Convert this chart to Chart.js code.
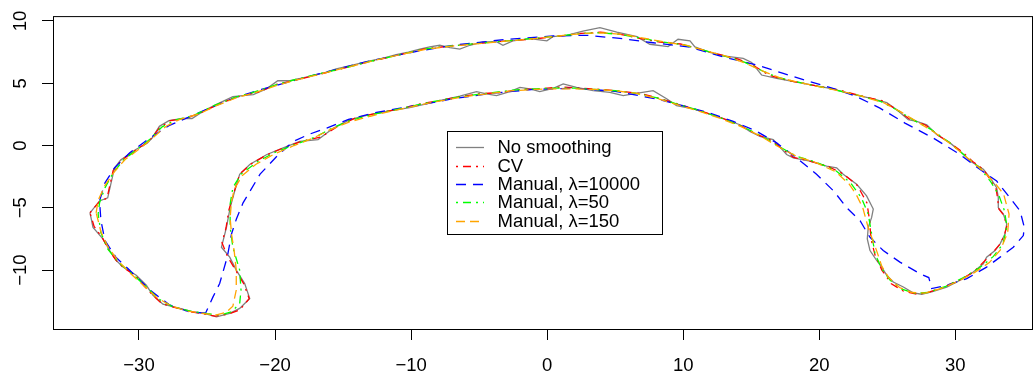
<!DOCTYPE html>
<html>
<head>
<meta charset="utf-8">
<script src="https://cdn.jsdelivr.net/npm/chart.js@4.4.1/dist/chart.umd.min.js"></script>
<style>
  html, body { margin: 0; padding: 0; background: #fff; }
  #wrap { width: 1034px; height: 375px; }
</style>
</head>
<body>
<div id="wrap"><canvas id="c" width="1034" height="375"></canvas></div>
<script>
// ---------------- data ----------------
const seriesNames = ["No smoothing", "CV", "Manual, \u03bb=10000", "Manual, \u03bb=50", "Manual, \u03bb=150"];
const xTicks = [-30, -20, -10, 0, 10, 20, 30];
const xTickLabels = ["\u221230", "\u221220", "\u221210", "0", "10", "20", "30"];
const yTicks = [-10, -5, 0, 5, 10];
const yTickLabels = ["\u221210", "\u22125", "0", "5", "10"];

const noSmoothing = [
[-33.6,-5.4],[-32.9,-4.45],[-32.3,-4.2],[-31.8,-1.8],[-31.35,-1.17],[-30.2,-0.3],[-29.4,0.18],[-29.05,0.58],
[-28.5,1.54],[-27.8,2.0],[-26.8,2.17],[-26.1,2.17],[-25.3,2.74],[-24.3,3.3],[-23.1,3.93],[-21.6,4.09],
[-20.6,4.57],[-19.8,5.2],[-18.9,5.2],[-17.7,5.5],[-16.2,5.9],[-15.5,6.15],[-14.3,6.45],[-13.2,6.75],
[-12.1,7.0],[-11.1,7.3],[-10.2,7.5],[-9.36,7.74],[-8.63,7.92],[-7.89,8.05],[-7.15,7.86],[-6.42,7.74],
[-5.68,8.05],[-4.73,8.32],[-3.7,8.32],[-3.25,8.05],[-2.52,8.4],[-1.27,8.58],[-0.02,8.4],[0.42,8.74],
[1.44,8.85],[2.63,9.19],[3.88,9.46],[5.12,9.11],[6.6,8.74],[7.55,8.13],[8.89,7.94],[9.62,8.53],
[10.5,8.4],[10.86,7.92],[11.96,7.47],[12.94,7.2],[14.41,6.99],[15.03,6.67],[15.76,5.66],[16.87,5.39],
[18.82,4.99],[20.79,4.59],[22.5,4.11],[23.73,3.8],[24.96,3.45],[25.7,2.87],[26.54,2.07],[27.16,1.94],
[27.9,1.67],[28.63,0.88],[29.61,0.21],[30.35,-0.45],[31.08,-1.25],[32.06,-1.91],[32.55,-2.58],[33.04,-3.38],
[33.16,-4.18],[33.16,-4.98],[33.53,-5.5],[33.78,-6.3],[33.65,-7.1],[33.29,-7.89],[32.92,-8.43],[32.3,-8.96],
[32.06,-9.49],[31.32,-10.16],[30.35,-10.82],[29.37,-11.36],[28.26,-11.75],[27.53,-11.94],[26.9,-11.83],[26.18,-11.36],
[25.44,-10.96],[24.96,-10.42],[24.59,-9.76],[24.22,-9.23],[23.73,-8.43],[23.53,-7.5],[23.6,-6.57],[23.85,-5.77],
[23.97,-5.1],[23.48,-4.04],[22.75,-3.11],[21.76,-2.31],[21.28,-1.79],[20.54,-1.65],[19.32,-1.25],[18.09,-0.99],
[17.6,-0.72],[16.62,0.48],[15.64,0.74],[14.9,1.14],[14.17,1.67],[12.94,2.15],[11.72,2.6],[10.74,2.95],
[9.51,3.21],[8.78,3.75],[7.79,4.41],[6.32,4.15],[5.59,4.01],[4.61,4.27],[3.38,4.41],[2.16,4.67],
[1.18,4.94],[0.44,4.59],[-0.54,4.33],[-1.27,4.55],[-2.0,4.67],[-2.74,4.33],[-3.72,4.01],[-4.46,4.15],
[-5.19,4.33],[-6.42,3.96],[-7.89,3.61],[-8.63,3.4],[-10.1,3.05],[-11.8,2.74],[-13.28,2.42],[-14.5,2.07],
[-15.7,1.4],[-16.84,0.48],[-18.18,0.34],[-19.4,-0.19],[-20.6,-0.72],[-21.86,-1.52],[-22.6,-2.31],[-22.96,-3.64],
[-23.3,-4.98],[-23.57,-6.57],[-23.94,-8.17],[-23.33,-8.96],[-22.84,-10.02],[-22.23,-11.08],[-21.86,-12.28],[-22.6,-13.08],
[-23.33,-13.48],[-24.31,-13.75],[-25.2,-13.48],[-26.03,-13.35],[-27.0,-13.08],[-28.24,-12.74],[-28.97,-12.02],[-29.46,-11.22],
[-30.2,-10.42],[-31.18,-9.76],[-31.66,-9.23],[-32.15,-8.43],[-32.65,-7.5],[-33.38,-6.57],[-33.6,-5.4]
];

const cvFit = [
[-33.6,-5.4],[-32.9,-4.5],[-32.35,-4.23],[-31.9,-2.0],[-31.3,-1.2],[-30.3,-0.4],[-29.3,0.3],[-28.5,1.4],
[-27.7,2.0],[-26.5,2.2],[-25.3,2.7],[-24.0,3.4],[-22.6,3.95],[-21.2,4.3],[-19.9,4.9],[-18.5,5.25],
[-16.8,5.7],[-15.0,6.2],[-13.0,6.75],[-11.0,7.25],[-9.0,7.75],[-7.0,8.0],[-5.0,8.2],[-3.0,8.4],
[-1.0,8.55],[1.0,8.8],[2.5,9.0],[3.9,9.1],[5.3,8.95],[6.8,8.6],[8.3,8.3],[9.8,8.15],
[11.0,7.8],[12.5,7.35],[14.0,6.95],[15.2,6.4],[16.3,5.65],[17.6,5.25],[19.5,4.85],[21.5,4.45],
[23.0,4.0],[24.6,3.6],[25.6,2.95],[26.6,2.15],[27.8,1.65],[28.7,0.85],[29.7,0.15],[30.5,-0.5],
[31.3,-1.3],[32.06,-1.91],[32.6,-2.8],[33.0,-3.5],[33.1,-4.18],[33.2,-5.1],[33.5,-5.5],[33.8,-6.4],
[33.6,-7.2],[33.3,-7.9],[32.9,-8.4],[32.4,-9.0],[31.3,-10.2],[30.3,-10.8],[29.2,-11.35],[28.0,-11.8],
[27.2,-11.95],[26.2,-11.7],[25.3,-11.1],[24.6,-10.0],[24.1,-8.8],[23.8,-7.5],[23.7,-6.0],[23.5,-4.6],
[22.8,-3.2],[21.8,-2.3],[20.6,-1.65],[19.3,-1.25],[18.1,-0.95],[17.3,-0.3],[16.5,0.4],[15.3,0.95],
[14.2,1.6],[13.0,2.15],[11.5,2.7],[10.0,3.2],[8.5,3.7],[7.0,4.15],[5.5,4.35],[4.0,4.5],
[2.5,4.6],[1.0,4.7],[-0.5,4.55],[-2.0,4.5],[-3.5,4.25],[-5.0,4.15],[-6.5,3.9],[-8.0,3.6],
[-9.5,3.3],[-11.0,2.9],[-12.5,2.6],[-14.0,2.25],[-15.3,1.6],[-16.6,0.7],[-18.0,0.35],[-19.3,-0.15],
[-20.6,-0.75],[-21.8,-1.5],[-22.6,-2.3],[-23.0,-3.7],[-23.4,-5.2],[-23.6,-6.6],[-23.9,-7.8],[-23.5,-8.9],
[-22.9,-10.0],[-22.3,-11.1],[-21.9,-12.3],[-22.6,-13.2],[-23.5,-13.55],[-24.4,-13.7],[-25.3,-13.5],[-26.2,-13.35],
[-27.2,-13.05],[-28.3,-12.7],[-29.0,-12.0],[-29.6,-11.3],[-30.2,-10.5],[-31.2,-9.75],[-31.7,-9.2],[-32.2,-8.4],
[-32.7,-7.4],[-33.3,-6.5],[-33.6,-5.4]
];

const manual10000 = [
[-25.1,-13.45],[-26.3,-13.35],[-27.75,-12.8],[-29.2,-11.6],[-30.7,-10.0],[-31.7,-8.96],[-32.5,-7.63],[-32.8,-6.0],
[-32.9,-4.45],[-32.5,-3.0],[-31.8,-1.8],[-30.7,-0.6],[-29.2,0.6],[-27.8,1.6],[-26.3,2.3],[-24.6,3.1],
[-22.8,3.9],[-21.0,4.5],[-19.0,5.1],[-17.0,5.7],[-15.0,6.25],[-13.0,6.8],[-11.0,7.25],[-9.36,7.6],
[-6.9,8.05],[-3.2,8.5],[0.44,8.8],[2.9,8.85],[5.35,8.6],[7.8,8.25],[10.49,7.9],[13.0,7.1],
[15.4,6.46],[17.35,5.79],[19.3,5.13],[21.0,4.59],[22.75,3.93],[24.46,3.0],[26.3,1.8],[28.38,0.6],
[30.35,-0.72],[31.8,-1.91],[33.04,-2.85],[34.0,-4.18],[34.76,-5.24],[35.07,-6.57],[35.0,-7.23],[34.26,-8.17],
[33.29,-8.96],[32.3,-9.76],[30.84,-10.69],[29.37,-11.22],[28.26,-11.48],[28.05,-10.6],[27.4,-10.29],[25.93,-9.36],
[24.7,-8.43],[23.73,-7.37],[23.0,-6.04],[22.0,-4.98],[21.1,-3.7],[19.8,-2.31],[18.34,-1.0],[16.87,0.21],
[15.4,1.14],[13.68,1.94],[11.96,2.6],[10.49,3.05],[8.0,3.75],[5.0,4.35],[2.0,4.6],[-1.0,4.5],
[-4.0,4.2],[-7.0,3.75],[-8.63,3.4],[-10.8,3.0],[-12.8,2.6],[-14.6,2.1],[-16.2,1.4],[-17.5,0.9],
[-18.7,0.3],[-19.9,-0.9],[-21.1,-2.3],[-22.35,-4.6],[-22.84,-5.9],[-23.2,-7.1],[-23.5,-8.9],[-24.07,-11.08],
[-24.56,-12.15],[-25.1,-13.45]
];

const manual50 = [
[-33.0,-5.5],[-32.9,-4.6],[-32.5,-3.4],[-31.9,-2.2],[-31.1,-1.1],[-30.1,-0.3],[-29.2,0.5],[-28.3,1.5],
[-27.3,2.05],[-26.0,2.4],[-24.5,3.2],[-23.0,3.85],[-21.5,4.3],[-20.0,4.85],[-18.5,5.3],[-16.8,5.75],
[-15.0,6.2],[-13.0,6.75],[-11.0,7.25],[-9.0,7.75],[-7.0,8.0],[-5.0,8.2],[-3.0,8.4],[-1.0,8.6],
[1.0,8.8],[2.5,9.0],[4.0,9.05],[5.5,8.9],[7.0,8.6],[8.5,8.3],[10.0,8.1],[11.5,7.65],
[13.0,7.2],[14.5,6.7],[15.8,6.0],[17.0,5.45],[19.0,4.95],[21.0,4.5],[22.8,4.05],[24.5,3.55],
[25.8,2.8],[27.0,2.0],[28.2,1.3],[29.5,0.3],[30.7,-0.8],[31.8,-1.8],[32.6,-2.9],[33.2,-4.0],
[33.6,-5.2],[33.8,-6.5],[33.5,-7.9],[32.8,-8.9],[31.8,-9.8],[30.6,-10.6],[29.3,-11.3],[28.0,-11.8],
[27.0,-11.85],[26.0,-11.5],[25.2,-10.8],[24.6,-9.9],[24.1,-8.7],[23.85,-7.1],[23.6,-5.5],[23.1,-4.2],
[22.3,-3.0],[21.2,-2.0],[19.8,-1.35],[18.3,-0.85],[17.0,-0.05],[15.7,0.8],[14.3,1.55],[12.8,2.2],
[11.2,2.8],[9.5,3.35],[8.0,3.85],[6.5,4.2],[5.0,4.4],[3.5,4.5],[2.0,4.6],[0.5,4.6],
[-1.0,4.55],[-2.5,4.45],[-4.0,4.25],[-5.5,4.05],[-7.0,3.8],[-8.5,3.5],[-10.0,3.15],[-11.5,2.8],
[-13.0,2.45],[-14.5,2.0],[-15.8,1.4],[-17.0,0.7],[-18.5,0.1],[-20.0,-0.55],[-21.3,-1.3],[-22.5,-2.3],
[-23.1,-3.38],[-23.3,-4.7],[-23.3,-6.57],[-23.1,-8.17],[-22.6,-10.0],[-22.5,-11.6],[-22.6,-12.7],[-23.2,-13.35],
[-24.0,-13.6],[-25.0,-13.5],[-26.2,-13.3],[-27.5,-12.95],[-28.6,-12.3],[-29.5,-11.3],[-30.5,-10.3],[-31.5,-9.4],
[-32.3,-8.3],[-32.8,-7.0],[-33.0,-5.5]
];

const manual150 = [
[-33.15,-5.4],[-33.0,-4.4],[-32.5,-3.2],[-31.8,-2.1],[-31.0,-1.1],[-30.0,-0.3],[-29.0,0.6],[-28.0,1.55],
[-27.0,2.1],[-25.7,2.5],[-24.3,3.2],[-22.8,3.85],[-21.3,4.3],[-19.8,4.85],[-18.3,5.3],[-16.6,5.75],
[-14.8,6.25],[-12.8,6.8],[-10.8,7.3],[-8.8,7.75],[-6.8,8.0],[-4.8,8.2],[-2.8,8.4],[-0.8,8.6],
[1.2,8.85],[2.8,9.0],[4.2,9.05],[5.7,8.9],[7.2,8.6],[8.7,8.3],[10.2,8.05],[11.7,7.6],
[13.2,7.15],[14.6,6.6],[15.9,5.95],[17.2,5.4],[19.2,4.9],[21.2,4.45],[23.0,4.0],[24.7,3.45],
[26.0,2.7],[27.2,1.9],[28.4,1.1],[29.7,0.1],[30.9,-1.0],[32.0,-2.0],[32.9,-3.0],[33.55,-3.9],
[33.95,-5.5],[33.85,-7.0],[33.3,-8.4],[32.5,-9.4],[31.4,-10.2],[30.2,-10.9],[29.0,-11.45],[27.8,-11.85],
[26.8,-11.8],[25.9,-11.4],[25.1,-10.6],[24.6,-9.7],[24.2,-8.4],[23.6,-6.6],[23.2,-5.0],[22.7,-3.9],
[22.2,-3.1],[21.2,-2.1],[19.8,-1.4],[18.3,-0.85],[17.0,-0.1],[15.7,0.75],[14.3,1.5],[12.8,2.15],
[11.2,2.75],[9.5,3.3],[8.0,3.8],[6.5,4.2],[5.0,4.4],[3.5,4.5],[2.0,4.55],[0.5,4.55],
[-1.0,4.5],[-2.5,4.4],[-4.0,4.2],[-5.5,4.0],[-7.0,3.75],[-8.5,3.45],[-10.0,3.1],[-11.5,2.75],
[-13.0,2.35],[-14.5,1.9],[-15.9,1.3],[-17.2,0.6],[-18.6,0.0],[-20.0,-0.65],[-21.4,-1.5],[-22.4,-2.4],
[-23.0,-3.5],[-23.2,-4.5],[-23.3,-5.8],[-23.2,-7.1],[-23.0,-8.5],[-22.85,-10.0],[-22.85,-11.6],[-23.1,-12.9],
[-23.6,-13.4],[-24.3,-13.6],[-25.2,-13.5],[-26.4,-13.3],[-27.6,-12.9],[-28.7,-12.2],[-29.6,-11.3],[-30.6,-10.3],
[-31.5,-9.3],[-32.3,-8.1],[-32.8,-6.9],[-33.15,-5.4]
];

// ---------------- styles ----------------
const FONT = '"Liberation Sans", Arial, Helvetica, sans-serif';
const FONT_SIZE = 18.5;
const styles = [
  { color: '#808080', dash: [] },
  { color: '#FF0000', dash: [2, 5, 8, 5] },
  { color: '#0000FF', dash: [10, 7] },
  { color: '#00FF00', dash: [2, 5, 8, 5] },
  { color: '#FFA500', dash: [9, 5] }
];
const allSeries = [noSmoothing, cvFit, manual10000, manual50, manual150];

const datasets = allSeries.map((s, i) => ({
  label: seriesNames[i],
  data: s.map(p => ({ x: p[0], y: p[1] })),
  showLine: true,
  borderColor: styles[i].color,
  borderDash: styles[i].dash,
  borderWidth: 1.3,
  pointRadius: 0,
  pointHoverRadius: 0,
  tension: 0,
  fill: false,
  order: allSeries.length - i
}));

const boxPlugin = {
  id: 'rbox',
  afterDraw(chart) {
    const { ctx, chartArea: a } = chart;
    ctx.save();
    ctx.strokeStyle = '#000';
    ctx.lineWidth = 1;
    ctx.strokeRect(a.left + 0.5, a.top + 0.5, a.right - a.left - 1, a.bottom - a.top);
    // legend
    const lx = 447, ly = 131, lw = 215, lh = 103;
    ctx.fillStyle = '#fff';
    ctx.fillRect(lx, ly, lw, lh);
    ctx.strokeRect(lx + 0.5, ly + 0.5, lw, lh);
    ctx.font = FONT_SIZE + 'px ' + FONT;
    ctx.textBaseline = 'middle';
    ctx.textAlign = 'left';
    const rowH = 18.35;
    for (let i = 0; i < seriesNames.length; i++) {
      const yy = 148.3 + i * rowH;
      ctx.strokeStyle = styles[i].color;
      ctx.setLineDash(styles[i].dash);
      ctx.lineWidth = 1.3;
      ctx.beginPath();
      ctx.moveTo(456, Math.round(yy - 1) + 0.5);
      ctx.lineTo(484, Math.round(yy - 1) + 0.5);
      ctx.stroke();
      ctx.setLineDash([]);
      ctx.fillStyle = '#000';
      ctx.fillText(seriesNames[i], 497.5, yy);
    }
    ctx.restore();
  }
};

new Chart(document.getElementById('c'), {
  type: 'scatter',
  data: { datasets },
  plugins: [boxPlugin],
  options: {
    responsive: false,
    devicePixelRatio: 1,
    animation: false,
    events: [],
    layout: { padding: { top: 14, right: 1, left: 0, bottom: 0 } },
    plugins: { legend: { display: false }, tooltip: { enabled: false } },
    scales: {
      x: {
        type: 'linear',
        min: -36.32, max: 35.71,
        afterBuildTicks: s => { s.ticks = xTicks.map(v => ({ value: v })); },
        afterFit: s => { s.height = 46; },
        grid: { display: true, drawOnChartArea: false, drawTicks: true, tickLength: 11, color: '#000', lineWidth: 1 },
        border: { display: false },
        ticks: {
          color: '#000', padding: 15, maxRotation: 0, autoSkip: false,
          font: { family: FONT, size: FONT_SIZE },
          callback: (v) => xTickLabels[xTicks.indexOf(v)]
        }
      },
      y: {
        type: 'linear',
        min: -14.73, max: 10.39,
        afterBuildTicks: s => { s.ticks = yTicks.map(v => ({ value: v })); },
        afterFit: s => { s.width = 53; },
        grid: { display: true, drawOnChartArea: false, drawTicks: true, tickLength: 11, color: '#000', lineWidth: 1 },
        border: { display: false },
        ticks: {
          color: '#000', padding: 5, minRotation: 90, maxRotation: 90, crossAlign: 'center', autoSkip: false,
          font: { family: FONT, size: FONT_SIZE },
          callback: (v) => yTickLabels[yTicks.indexOf(v)]
        }
      }
    }
  }
});
</script>
</body>
</html>
